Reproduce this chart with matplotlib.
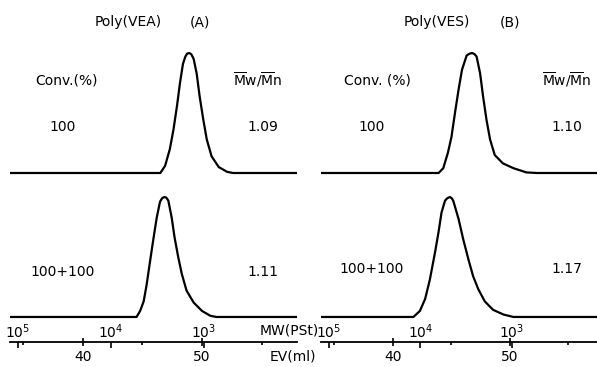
import numpy as np
import matplotlib.pyplot as plt

# GPC traces: elution volume (ml) vs normalised RI response
ev_a_top = [33.9, 46.5, 46.9, 47.3, 47.6, 47.9, 48.15, 48.4, 48.6, 48.75, 48.93, 49.1,
            49.3, 49.55, 49.8, 50.1, 50.4, 50.8, 51.4, 52.1, 52.6, 58.0]
h_a_top = [0, 0, 0.06, 0.20, 0.36, 0.56, 0.75, 0.91, 0.97, 0.995, 1.0, 0.99,
           0.95, 0.83, 0.64, 0.45, 0.28, 0.14, 0.05, 0.01, 0, 0]

ev_a_bot = [33.9, 44.5, 44.8, 45.1, 45.35, 45.6, 45.9, 46.2, 46.47, 46.65, 46.83, 47.0,
            47.17, 47.45, 47.7, 48.0, 48.3, 48.7, 49.3, 50.0, 50.7, 51.2, 58.0]
h_a_bot = [0, 0, 0.05, 0.13, 0.27, 0.44, 0.64, 0.83, 0.96, 0.99, 1.0, 0.995,
           0.97, 0.83, 0.66, 0.50, 0.36, 0.22, 0.12, 0.05, 0.01, 0, 0]

ev_b_top = [33.7, 43.9, 44.3, 44.7, 45.0, 45.3, 45.6, 45.9, 46.3, 46.55, 46.78, 46.98,
            47.15, 47.45, 47.7, 48.0, 48.3, 48.7, 49.4, 50.3, 51.4, 52.3, 57.5]
h_b_top = [0, 0, 0.04, 0.17, 0.30, 0.50, 0.69, 0.86, 0.98, 0.995, 1.0, 0.99,
           0.97, 0.83, 0.64, 0.44, 0.28, 0.15, 0.08, 0.04, 0.005, 0, 0]

ev_b_bot = [33.85, 41.75, 42.3, 42.75, 43.15, 43.6, 43.9, 44.15, 44.45, 44.65, 44.87, 45.02,
            45.15, 45.6, 46.0, 46.45, 46.85, 47.3, 47.85, 48.55, 49.45, 50.3, 57.5]
h_b_bot = [0, 0, 0.05, 0.15, 0.31, 0.54, 0.71, 0.87, 0.97, 0.99, 1.0, 0.99,
           0.97, 0.82, 0.65, 0.48, 0.34, 0.23, 0.13, 0.06, 0.02, 0, 0]

# MW(PSt) calibration marks on the EV scale
mw_ticks = [1e5, 1e4, 1e3]
mw_ev = [34.5, 42.4, 50.1]
mw_labels = ["$10^5$", "$10^4$", "$10^3$"]

conv_labels = ["100", "100+100"]
mwmn_a = ["1.09", "1.11"]
mwmn_b = ["1.10", "1.17"]

slope, icpt = np.polyfit(mw_ev, np.log10(mw_ticks), 1)


def ev_to_mw(ev):
    return 10 ** (icpt + slope * np.asarray(ev, dtype=float))


def mw_to_ev(mw):
    with np.errstate(divide='ignore', invalid='ignore'):
        return (np.log10(np.asarray(mw, dtype=float)) - icpt) / slope


W, H = 597, 367
fig = plt.figure(figsize=(W / 100, H / 100), dpi=100)

offset = 1.2      # upper trace sits above the lower one
ev_line = -0.21   # position of the EV axis
ylim = (-0.417, 2.642)
fs = 10

panels = [
    ([10, 287], (33.87, 57.98), ev_a_top, h_a_top, ev_a_bot, h_a_bot),
    ([321, 276], (33.85, 57.44), ev_b_top, h_b_top, ev_b_bot, h_b_bot),
]

for (px, xlim, ev_t, h_t, ev_b, h_b) in panels:
    ax = fig.add_axes([px[0] / W, 0, px[1] / W, 1])
    ax.plot(ev_t, np.array(h_t) + offset, color='black', lw=1.6, solid_joinstyle='round')
    ax.plot(ev_b, h_b, color='black', lw=1.6, solid_joinstyle='round')
    ax.set_xlim(*xlim)
    ax.set_ylim(*ylim)
    ax.patch.set_visible(False)
    for s in ['top', 'left', 'right']:
        ax.spines[s].set_visible(False)
    ax.spines['bottom'].set_position(('data', ev_line))
    ax.spines['bottom'].set_linewidth(1.3)
    ax.set_yticks([])
    ax.set_xticks([40, 50])
    ax.set_xticks([35, 45, 55], minor=True)
    ax.tick_params(axis='x', which='major', direction='inout', length=6, width=1.2,
                   labelsize=fs, pad=3)
    ax.tick_params(axis='x', which='minor', direction='out', length=2.5, width=1.2)

    sec = ax.secondary_xaxis(ev_line, functions=(ev_to_mw, mw_to_ev), transform=ax.transData)
    sec.set_alignment('top')
    sec.set_xticks(mw_ticks, mw_labels)
    sec.tick_params(axis='x', direction='in', length=4, width=1.2, labelsize=fs, pad=1)
    sec.spines['top'].set_visible(False)


def put(x, y, s, **kw):
    fig.text(x / W, 1 - y / H, s, ha='center', va='center', fontsize=fs, **kw)


mwmn = r"$\overline{\mathrm{M}}$w/$\overline{\mathrm{M}}$n"

# panel A
put(128, 22, "Poly(VEA)")
put(200, 22, "(A)")
put(66, 80, "Conv.(%)")
put(258, 80, mwmn)
# panel B
put(437, 22, "Poly(VES)")
put(510, 22, "(B)")
put(377, 80, "Conv. (%)")
put(567, 80, mwmn)

for i, y in enumerate([127, 272]):
    put(63, y, conv_labels[i])
    put(263, y, mwmn_a[i])
for i, y in enumerate([127, 269]):
    put(372, y, conv_labels[i])
    put(567, y, mwmn_b[i])

put(289, 330, "MW(PSt)")
put(293, 357, "EV(ml)")

fig.savefig("out.png", dpi=100)
